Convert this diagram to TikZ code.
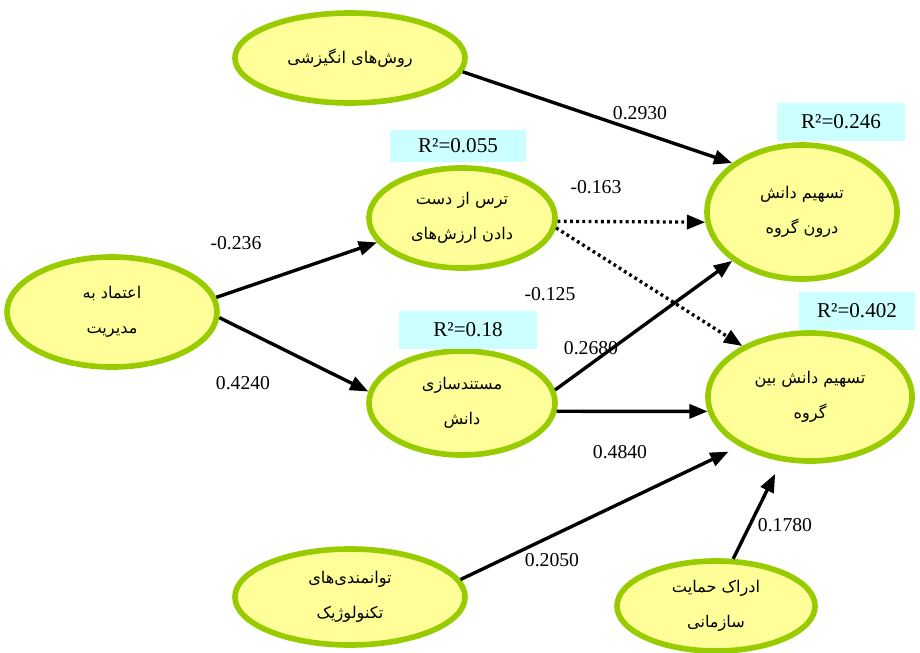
\documentclass[tikz,border=0pt]{standalone}
\usepackage{fontspec}
\setmainfont{Liberation Serif}
\newfontfamily\arabicfont[Script=Arabic]{DejaVu Sans}
\TeXXeTstate=1
\usetikzlibrary{shapes.geometric,arrows.meta}
\definecolor{ovalfill}{RGB}{255,255,153}
\definecolor{ovalline}{RGB}{153,204,0}
\definecolor{rsqfill}{RGB}{204,255,255}
\tikzset{
  construct/.style={ellipse,draw=ovalline,fill=ovalfill,line width=4pt,
    inner sep=0pt,align=center,font=\arabicfont\fontsize{11.5}{25}\selectfont},
  rsq/.style={fill=rsqfill,inner sep=0pt,font=\fontsize{15}{15}\selectfont},
  coef/.style={font=\fontsize{14}{14}\selectfont},
  effect/.style={-{Triangle[length=13pt,width=10pt]},line width=2.4pt},
  weak/.style={effect,dash pattern=on 2pt off 2.4pt}
}
\begin{document}
\begin{tikzpicture}[x=0.025cm,y=-0.025cm]
      \useasboundingbox (0,0) rectangle (920,652);
      \draw
        (350,58) node[construct,minimum width=5.75cm,minimum height=2.25cm] (mot){\beginR روش‌های انگیزشی\endR}
        (462,218) node[construct,minimum width=4.65cm,minimum height=2.5cm] (fear){\beginR ترس از دست\endR\\\beginR دادن ارزش‌های\endR}
        (802,212) node[construct,minimum width=4.75cm,minimum height=3.35cm] (within){\beginR تسهیم دانش\endR\\\beginR درون گروه\endR}
        (112,312) node[construct,minimum width=5.25cm,minimum height=2.75cm] (trust){\beginR اعتماد به\endR\\\beginR مدیریت\endR}
        (462,403) node[construct,minimum width=4.65cm,minimum height=2.6cm] (doc){\beginR مستندسازی\endR\\\beginR دانش\endR}
        (810,397) node[construct,minimum width=5.1cm,minimum height=3.2cm] (between){\beginR تسهیم دانش بین\endR\\\beginR گروه\endR}
        (350,597) node[construct,minimum width=5.75cm,minimum height=2.4cm] (tech){\beginR توانمندی‌های\endR\\\beginR تکنولوژیک\endR}
        (716,606) node[construct,minimum width=4.95cm,minimum height=2.25cm] (support){\beginR ادراک حمایت\endR\\\beginR سازمانی\endR};
      % R squared boxes
      \draw
        (458,146) node[rsq,minimum width=3.4cm,minimum height=0.8cm] (rfear){R²=0.055}
        (841,122) node[rsq,minimum width=3.2cm,minimum height=0.95cm] (rwithin){R²=0.246}
        (468,330) node[rsq,minimum width=3.43cm,minimum height=0.95cm] (rdoc){R²=0.18}
        (857,311) node[rsq,minimum width=2.88cm,minimum height=0.95cm] (rbetween){R²=0.402};
      % path coefficients
      \draw
        (640,113) node[coef] (c1){0.2930}
        (596,187) node[coef] (c2){-0.163}
        (550,294) node[coef] (c3){-0.125}
        (236,243) node[coef] (c4){-0.236}
        (243,383) node[coef] (c5){0.4240}
        (591,348) node[coef] (c6){0.2680}
        (620,452) node[coef] (c7){0.4840}
        (552,560) node[coef] (c8){0.2050}
        (785,525) node[coef] (c9){0.1780};
      \begin{scope}[effect]
        \draw (mot.-7) to (within.145);
        \draw (trust.8) to (fear.-164);
        \draw (trust.-3) to (doc.173);
        \draw (doc.8) to (within.215);
        \draw (doc.-5) to (between.188);
        \draw[shorten >=0.3cm] (tech.9) to (between.215);
        \draw[shorten >=0.35cm] (support.70) to (between.-114);
      \end{scope}
      \begin{scope}[weak]
        \draw (fear.-2) to (within.-174);
        \draw (fear.-6) to (between.143);
      \end{scope}
    \end{tikzpicture}
\end{document}
